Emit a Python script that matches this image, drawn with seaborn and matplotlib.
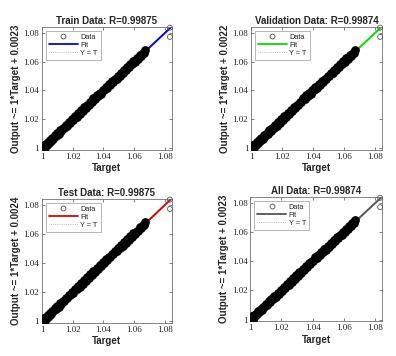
import matplotlib
matplotlib.use("Agg")
import matplotlib.pyplot as plt
import seaborn as sns
import numpy as np
import pandas as pd

# panel titles, fit colours and y labels
titles = ["Train Data: R=0.99875", "Validation Data: R=0.99874",
          "Test Data: R=0.99875", "All Data: R=0.99874"]
ylabels = ["Output ~= 1*Target + 0.0023", "Output ~= 1*Target + 0.0022",
           "Output ~= 1*Target + 0.0024", "Output ~= 1*Target + 0.0023"]
fit_colors = ["#0000ff", "#00e000", "#e00000", "#555555"]

ticks = [1.0, 1.02, 1.04, 1.06, 1.08]
tick_labels = ["1", "1.02", "1.04", "1.06", "1.08"]

# dense band along the diagonal
target = [
    1.0000, 1.0003, 1.0006, 1.0010, 1.0014, 1.0019, 1.0024, 1.0030, 1.0036, 1.0043,
    1.0050, 1.0058, 1.0066, 1.0074, 1.0082, 1.0091, 1.0100, 1.0109, 1.0118, 1.0127,
    1.0136, 1.0145, 1.0155, 1.0165, 1.0175, 1.0185, 1.0195, 1.0205, 1.0215, 1.0225,
    1.0235, 1.0245, 1.0255, 1.0265, 1.0275, 1.0285, 1.0295, 1.0305, 1.0315, 1.0325,
    1.0335, 1.0345, 1.0355, 1.0365, 1.0375, 1.0385, 1.0395, 1.0405, 1.0415, 1.0425,
    1.0435, 1.0445, 1.0455, 1.0465, 1.0475, 1.0485, 1.0495, 1.0505, 1.0515, 1.0525,
    1.0535, 1.0545, 1.0555, 1.0565, 1.0575, 1.0585, 1.0595, 1.0605, 1.0615, 1.0625,
    1.0635, 1.0645, 1.0655, 1.0665, 1.0672,
    1.0002, 1.0008, 1.0015, 1.0004,
]
output = [
    1.0012, 0.9998, 1.0015, 1.0003, 1.0022, 1.0011, 1.0031, 1.0022, 1.0041, 1.0037,
    1.0057, 1.0050, 1.0072, 1.0068, 1.0090, 1.0084, 1.0108, 1.0102, 1.0125, 1.0121,
    1.0143, 1.0139, 1.0162, 1.0158, 1.0182, 1.0178, 1.0203, 1.0197, 1.0222, 1.0219,
    1.0243, 1.0238, 1.0262, 1.0259, 1.0284, 1.0278, 1.0303, 1.0299, 1.0323, 1.0320,
    1.0345, 1.0338, 1.0366, 1.0359, 1.0386, 1.0378, 1.0404, 1.0400, 1.0426, 1.0420,
    1.0442, 1.0440, 1.0463, 1.0460, 1.0482, 1.0479, 1.0503, 1.0500, 1.0524, 1.0519,
    1.0543, 1.0540, 1.0563, 1.0559, 1.0582, 1.0580, 1.0603, 1.0600, 1.0622, 1.0619,
    1.0643, 1.0640, 1.0662, 1.0661, 1.0680,
    1.0006, 0.9997, 1.0002, 1.0016,
]
# the two isolated points top right
outlier_target = [1.0832, 1.0832]
outlier_output = [1.0834, 1.0770]

df = pd.DataFrame({"Target": target + outlier_target,
                   "Output": output + outlier_output})
band = df.iloc[:len(target)]
lone = df.iloc[len(target):]

xlim = (1.0, 1.0845)
ylim = (0.9990, 1.0838)

sns.set_style("white")
plt.rcParams["font.family"] = ["Liberation Sans", "DejaVu Sans"]

fig = plt.figure(figsize=(3.96, 3.56), dpi=100)
positions = [
    [0.106, 0.579, 0.328, 0.345],
    [0.634, 0.579, 0.331, 0.345],
    [0.106, 0.093, 0.328, 0.348],
    [0.632, 0.098, 0.333, 0.348],
]

for i in range(4):
    ax = fig.add_axes(positions[i])
    ax.set_xlim(xlim)
    ax.set_ylim(ylim)

    # fit line, reaching the axes edge
    sns.regplot(data=df, x="Target", y="Output", scatter=False, ci=None,
                truncate=False, color=fit_colors[i], line_kws={"lw": 1.4, "zorder": 2},
                ax=ax)
    # Y = T
    ax.plot(list(xlim), list(xlim), ls=":", color="0.55", lw=0.6, zorder=1)

    sns.scatterplot(data=band, x="Target", y="Output", marker="o", s=28,
                    color="black", edgecolor="black", linewidth=1.0,
                    ax=ax, zorder=3, legend=False)
    sns.scatterplot(data=lone, x="Target", y="Output", marker="o", s=13,
                    facecolor="none", edgecolor="0.35", linewidth=0.6,
                    ax=ax, zorder=3, legend=False, clip_on=False)

    ax.set_xlim(xlim)
    ax.set_ylim(ylim)
    ax.set_xticks(ticks)
    ax.set_xticklabels(tick_labels, family="Liberation Serif", fontsize=6.5)
    ax.set_yticks(ticks)
    ax.set_yticklabels(tick_labels, family="Liberation Serif", fontsize=6.5)
    ax.tick_params(direction="in", length=2, width=0.5, color="0.3", pad=2,
                   top=True, right=True, bottom=True, left=True)
    for sp in ax.spines.values():
        sp.set_color("0.45")
        sp.set_linewidth(0.6)

    ax.set_title(titles[i], fontsize=7, fontweight="bold", pad=2)
    ax.set_xlabel("Target", fontsize=7, fontweight="bold", labelpad=2)
    ax.set_ylabel(ylabels[i], fontsize=7, fontweight="bold", labelpad=2)

    h_data = plt.Line2D([], [], marker="o", ls="none", mfc="none", mec="0.3",
                        ms=3.5, mew=0.6)
    h_fit = plt.Line2D([], [], color=fit_colors[i], lw=1.3)
    h_yt = plt.Line2D([], [], color="0.6", lw=0.5, ls=":")
    leg = ax.legend([h_data, h_fit, h_yt], ["Data", "Fit", "Y = T"],
                    loc="upper left", fontsize=5.3, frameon=True, fancybox=False,
                    borderpad=0.4, handlelength=4.0, labelspacing=0.1,
                    handletextpad=0.3, borderaxespad=0.5)
    leg.get_frame().set_edgecolor("0.5")
    leg.get_frame().set_linewidth(0.5)

fig.savefig("out.png", dpi=100)
